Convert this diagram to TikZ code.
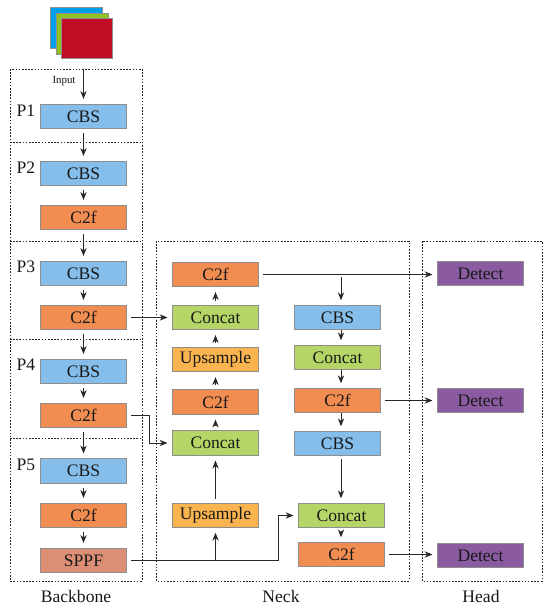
\documentclass[tikz,border=0pt]{standalone}
\usepackage{fontspec}
\setmainfont{Liberation Serif}
\usetikzlibrary{arrows.meta,positioning,calc}
\definecolor{cbsblue}{HTML}{85BEEA}
\definecolor{cfforange}{HTML}{F28D52}
\definecolor{concatgreen}{HTML}{B5D666}
\definecolor{upsampleyellow}{HTML}{FAB44F}
\definecolor{sppfsalmon}{HTML}{DD8F76}
\definecolor{detectpurple}{HTML}{8A5BA1}
\definecolor{edgegray}{HTML}{8E8E8E}
\definecolor{arrowink}{HTML}{2B2523}
\definecolor{imgblue}{HTML}{00A0E9}
\definecolor{imggreen}{HTML}{8DC21F}
\definecolor{imgred}{HTML}{C00D25}
\tikzset{
  blockbox/.style={draw=edgegray,line width=.5pt,minimum width=1.72cm,minimum height=.49cm,
    inner sep=0pt,text=black!90,font=\fontsize{10}{12}\selectfont},
  cbsbox/.style={blockbox,fill=cbsblue},
  cffbox/.style={blockbox,fill=cfforange},
  concatbox/.style={blockbox,fill=concatgreen},
  upbox/.style={blockbox,fill=upsampleyellow},
  sppfbox/.style={blockbox,fill=sppfsalmon},
  detectbox/.style={blockbox,fill=detectpurple},
  imgsheet/.style={draw=edgegray,line width=.3pt,minimum width=1.03cm,minimum height=.81cm,inner sep=0pt},
  regionbox/.style={draw=black!85,line width=.5pt,dash pattern=on .9pt off .9pt},
  arw/.style={-{Stealth[length=4.5pt,width=3.6pt]},draw=arrowink,line width=.55pt},
  partlabel/.style={inner sep=0pt,text=black!90,font=\fontsize{10}{12}\selectfont},
  footlabel/.style={inner sep=0pt,text=black!90,font=\fontsize{10}{12}\selectfont}
}
\begin{document}
\begin{tikzpicture}[x=.02cm,y=-.02cm]
    \useasboundingbox (0,0) rectangle (550,610);
    % regions
    \draw[regionbox] (10,69) rectangle (142,581);
    \draw[regionbox] (10,142) -- (142,142);
    \draw[regionbox] (10,241) -- (142,241);
    \draw[regionbox] (10,339) -- (142,339);
    \draw[regionbox] (10,438) -- (142,438);
    \draw[regionbox] (156,241) rectangle (409,581);
    \draw[regionbox] (422,241) rectangle (542,581);
    % input image
    \node[imgsheet,fill=imgblue] (sheeta) at (76.5,28) {};
    \node[imgsheet,fill=imggreen] (sheetb) at (82.5,34) {};
    \node[imgsheet,fill=imgred] (sheetc) at (87,38.5) {};
    % backbone
    \node[cbsbox] (p1cbs) at (83.5,116.5) {CBS};
    \node[cbsbox] (p2cbs) at (83.5,173.5) {CBS};
    \node[cffbox] (p2cff) at (83.5,217.5) {C2f};
    \node[cbsbox] (p3cbs) at (83.5,273.5) {CBS};
    \node[cffbox] (p3cff) at (83.5,317.5) {C2f};
    \node[cbsbox] (p4cbs) at (83.5,371.5) {CBS};
    \node[cffbox] (p4cff) at (83.5,415.5) {C2f};
    \node[cbsbox] (p5cbs) at (83.5,471) {CBS};
    \node[cffbox] (p5cff) at (83.5,515.5) {C2f};
    \node[sppfbox] (sppf) at (83.5,560.5) {SPPF};
    \node[partlabel,font=\fontsize{6.2}{7}\selectfont] (inputlabel) at (64,81) {Input};
    \foreach \n/\y in {1/111,2/168,3/267,4/365,5/465}
      \node[partlabel] (plabel\n) at (26,\y) {P\n};
    % neck
    \node[cffbox] (ncffa) at (215.5,274.5) {C2f};
    \node[concatbox] (nconcata) at (215.5,317.5) {Concat};
    \node[upbox] (nupa) at (215.5,359.5) {Upsample};
    \node[cffbox] (ncffb) at (215.5,402) {C2f};
    \node[concatbox] (nconcatb) at (215.5,443) {Concat};
    \node[upbox] (nupb) at (215.5,515.5) {Upsample};
    \node[cbsbox] (ncbsa) at (337.5,317.5) {CBS};
    \node[concatbox] (nconcatc) at (337.5,357.5) {Concat};
    \node[cffbox] (ncffc) at (337.5,400.5) {C2f};
    \node[cbsbox] (ncbsb) at (337.5,443.5) {CBS};
    \node[concatbox] (nconcatd) at (341.5,515.5) {Concat};
    \node[cffbox] (ncffd) at (341.5,554.5) {C2f};
    % head
    \node[detectbox] (deta) at (480.5,273.5) {Detect};
    \node[detectbox] (detb) at (480.5,400.5) {Detect};
    \node[detectbox] (detc) at (480.5,555.5) {Detect};
    \node[footlabel] (backbonelabel) at (76,596) {Backbone};
    \node[footlabel] (necklabel) at (281,596) {Neck};
    \node[footlabel] (headlabel) at (481,596) {Head};
    % backbone arrows
    \draw[arw,shorten <=5.6pt,shorten >=2.8pt] (sheetc.south -| p1cbs.north) -- (p1cbs.north);
    \foreach \a/\b in {p1cbs/p2cbs,p2cbs/p2cff,p2cff/p3cbs,p3cbs/p3cff,p3cff/p4cbs,
      p4cbs/p4cff,p4cff/p5cbs,p5cbs/p5cff,p5cff/sppf}
      \draw[arw,shorten <=2.4pt,shorten >=2.8pt] (\a.south) -- (\b.north);
    % neck arrows
    \foreach \a/\b in {nconcatb/ncffb,ncffb/nupa,nupa/nconcata,nconcata/ncffa,nupb/nconcatb}
      \draw[arw,shorten <=2.4pt,shorten >=2.8pt] (\a.north) -- (\b.south);
    \coordinate (ra) at ($(ncbsa.north)+(3.5,0)$);
    \coordinate (rb) at ($(ncbsa.south)+(3.5,0)$);
    \coordinate (rc) at ($(nconcatc.north)+(3.5,0)$);
    \coordinate (rd) at ($(nconcatc.south)+(3.5,0)$);
    \coordinate (re) at ($(ncffc.north)+(3.5,0)$);
    \coordinate (rf) at ($(ncffc.south)+(3.5,0)$);
    \coordinate (rg) at ($(ncbsb.north)+(3.5,0)$);
    \coordinate (rh) at ($(ncbsb.south)+(3.5,0)$);
    \coordinate (topjoin) at (ra |- ncffa.east);
    \draw[arw,shorten >=2.6pt] (rb) -- (rc);
    \draw[arw,shorten >=2.6pt] (rd) -- (re);
    \draw[arw,shorten >=2.6pt] (rf) -- (rg);
    \draw[arw,shorten <=1.7pt,shorten >=2.6pt] (rh) -- (nconcatd.north -| rh);
    \draw[arw,shorten <=1.7pt,shorten >=2.6pt] (nconcatd.south -| rh) -- (ncffd.north -| rh);
    \draw[arw,shorten >=2.6pt] ($(topjoin)+(0,2)$) -- (ra);
    % across arrows
    \draw[arw,shorten <=2.2pt,shorten >=2.6pt] (ncffa.east) -- (deta.west |- ncffa.east);
    \draw[arw,shorten <=2.2pt,shorten >=2.6pt] (ncffc.east) -- (detb.west);
    \draw[arw,shorten <=2.2pt,shorten >=2.6pt] (ncffd.east) -- (detc.west |- ncffd.east);
    \draw[arw,shorten <=2.2pt,shorten >=2.6pt] (p3cff.east) -- (nconcata.west);
    \coordinate (pfourbend) at (149,415.5);
    \draw[arw,shorten <=2.2pt,shorten >=2.6pt] (p4cff.east) -- (pfourbend) |- (nconcatb.west);
    \coordinate (sppfbend) at (278,560.5);
    \draw[arw,shorten <=2.2pt,shorten >=2.6pt] (sppf.east) -- (sppfbend) |- (nconcatd.west);
    \draw[arw,shorten >=2.6pt] (nupb.south |- sppf.east) -- (nupb.south);
  \end{tikzpicture}
\end{document}
